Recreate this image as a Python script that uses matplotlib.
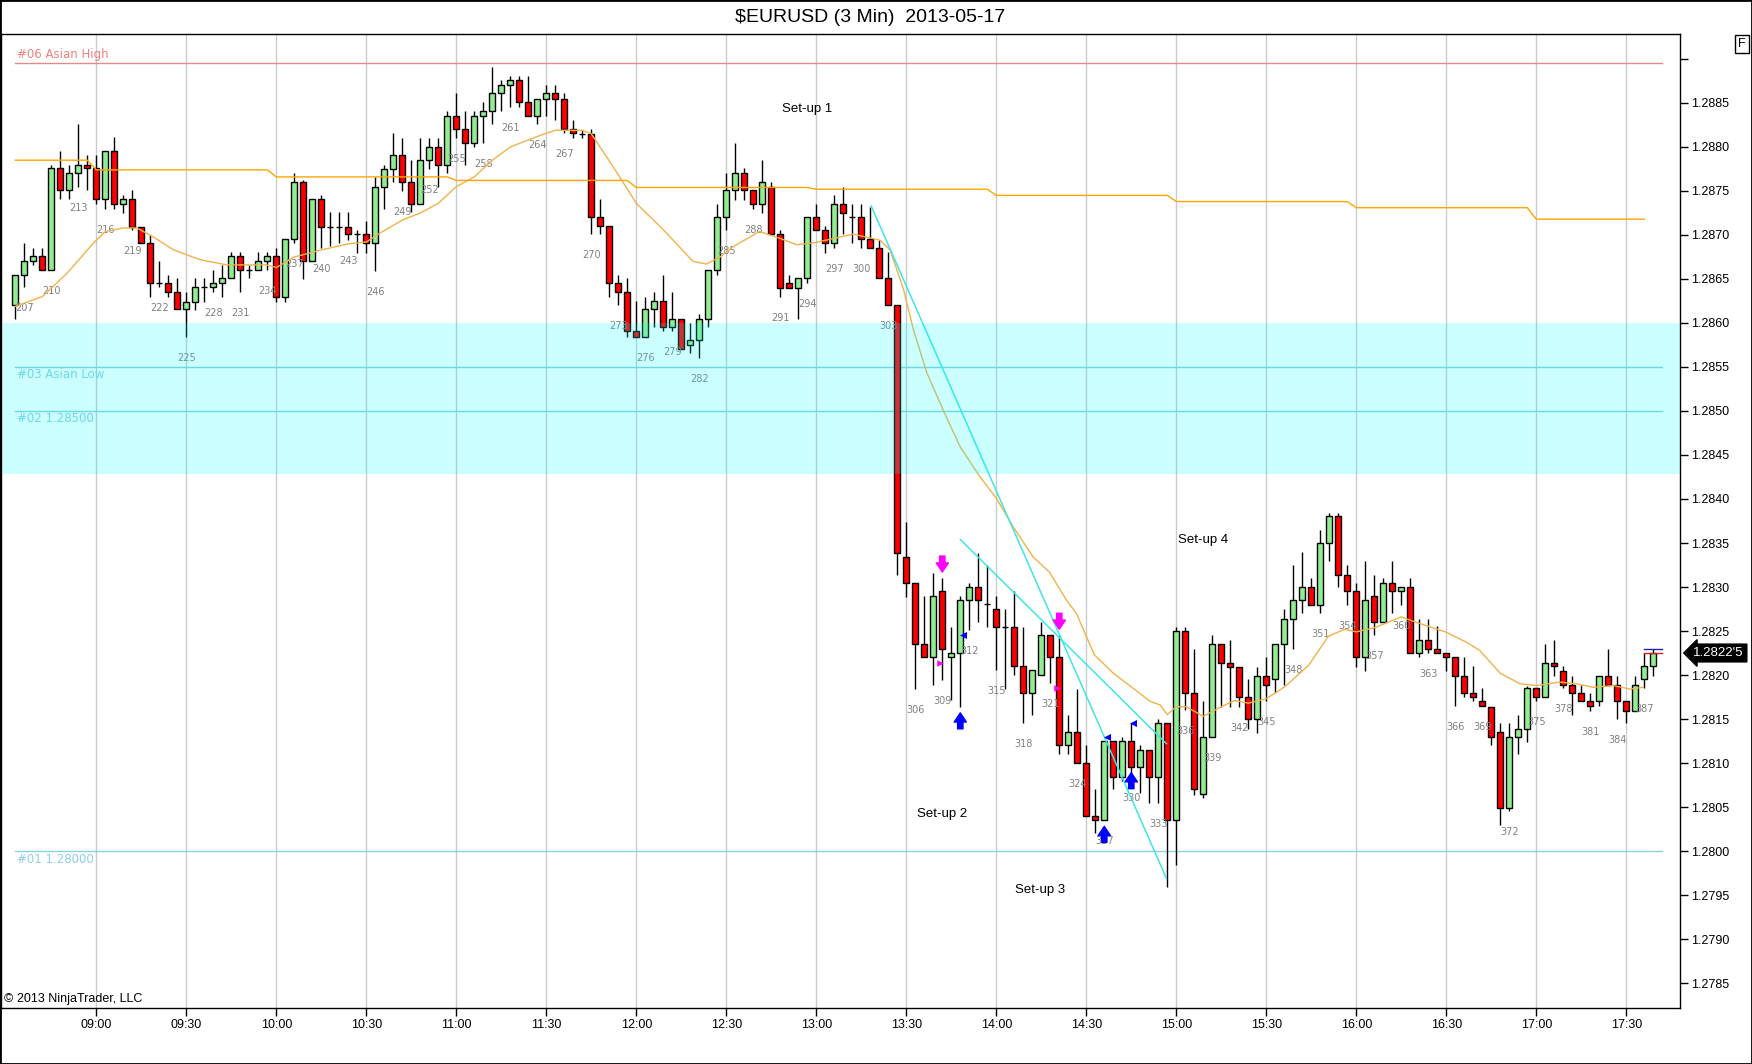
import numpy as np
import matplotlib.pyplot as plt
import matplotlib.transforms as mtransforms
from matplotlib.patches import Rectangle

# bar numbers 206 .. 388, 3 minute bars, 215 = 09:00
first_bar = 206
opens = [1.28620, 1.28655, 1.28670, 1.28676, 1.28660, 1.28776, 1.28751, 1.28770, 1.28780, 1.28776,
         1.28741, 1.28795, 1.28735, 1.28741, 1.28709, 1.28691, 1.28645, 1.28645, 1.28635, 1.28616,
         1.28624, 1.28641, 1.28641, 1.28645, 1.28651, 1.28676, 1.28660, 1.28660, 1.28670, 1.28676,
         1.28630, 1.28695, 1.28760, 1.28670, 1.28741, 1.28709, 1.28709, 1.28709, 1.28701, 1.28701,
         1.28691, 1.28755, 1.28775, 1.28791, 1.28760, 1.28735, 1.28785, 1.28800, 1.28780, 1.28835,
         1.28820, 1.28805, 1.28835, 1.28841, 1.28861, 1.28870, 1.28876, 1.28851, 1.28835, 1.28855,
         1.28861, 1.28855, 1.28820, 1.28815, 1.28815, 1.28720, 1.28710, 1.28645, 1.28635, 1.28591,
         1.28584, 1.28616, 1.28625, 1.28595, 1.28605, 1.28575, 1.28581, 1.28605, 1.28660, 1.28720,
         1.28751, 1.28770, 1.28751, 1.28735, 1.28755, 1.28701, 1.28645, 1.28640, 1.28651, 1.28720,
         1.28706, 1.28691, 1.28735, 1.28720, 1.28720, 1.28695, 1.28685, 1.28651, 1.28620, 1.28334,
         1.28305, 1.28235, 1.28220, 1.28295, 1.28220, 1.28225, 1.28285, 1.28300, 1.28281, 1.28275,
         1.28255, 1.28255, 1.28210, 1.28179, 1.28200, 1.28245, 1.28220, 1.28120, 1.28135, 1.28100,
         1.28040, 1.28035, 1.28125, 1.28084, 1.28125, 1.28095, 1.28115, 1.28084, 1.28145, 1.28035,
         1.28250, 1.28179, 1.28065, 1.28129, 1.28235, 1.28214, 1.28209, 1.28175, 1.28150, 1.28199,
         1.28195, 1.28235, 1.28264, 1.28285, 1.28300, 1.28280, 1.28350, 1.28381, 1.28314, 1.28295,
         1.28220, 1.28290, 1.28260, 1.28305, 1.28295, 1.28300, 1.28225, 1.28240, 1.28230, 1.28225,
         1.28220, 1.28199, 1.28179, 1.28170, 1.28164, 1.28135, 1.28049, 1.28129, 1.28139, 1.28185,
         1.28175, 1.28214, 1.28205, 1.28189, 1.28179, 1.28170, 1.28170, 1.28199, 1.28189, 1.28170,
         1.28159, 1.28195, 1.28210]
highs = [1.28655, 1.28691, 1.28685, 1.28685, 1.28780, 1.28795, 1.28780, 1.28826, 1.28791, 1.28791,
         1.28795, 1.28811, 1.28745, 1.28751, 1.28709, 1.28700, 1.28670, 1.28655, 1.28651, 1.28635,
         1.28651, 1.28651, 1.28660, 1.28666, 1.28681, 1.28681, 1.28666, 1.28681, 1.28681, 1.28685,
         1.28695, 1.28770, 1.28763, 1.28741, 1.28745, 1.28726, 1.28726, 1.28726, 1.28706, 1.28716,
         1.28766, 1.28780, 1.28816, 1.28810, 1.28785, 1.28810, 1.28810, 1.28810, 1.28841, 1.28861,
         1.28841, 1.28841, 1.28851, 1.28891, 1.28876, 1.28881, 1.28881, 1.28881, 1.28855, 1.28870,
         1.28870, 1.28861, 1.28831, 1.28819, 1.28820, 1.28741, 1.28710, 1.28655, 1.28651, 1.28625,
         1.28630, 1.28635, 1.28655, 1.28635, 1.28605, 1.28600, 1.28610, 1.28660, 1.28735, 1.28770,
         1.28805, 1.28776, 1.28751, 1.28785, 1.28760, 1.28706, 1.28655, 1.28651, 1.28720, 1.28735,
         1.28710, 1.28745, 1.28755, 1.28735, 1.28735, 1.28732, 1.28694, 1.28681, 1.28620, 1.28374,
         1.28305, 1.28290, 1.28316, 1.28310, 1.28255, 1.28290, 1.28305, 1.28339, 1.28325, 1.28290,
         1.28275, 1.28295, 1.28255, 1.28206, 1.28260, 1.28245, 1.28245, 1.28154, 1.28184, 1.28120,
         1.28070, 1.28125, 1.28125, 1.28130, 1.28145, 1.28120, 1.28115, 1.28150, 1.28145, 1.28255,
         1.28255, 1.28230, 1.28170, 1.28245, 1.28235, 1.28240, 1.28209, 1.28195, 1.28209, 1.28220,
         1.28235, 1.28275, 1.28325, 1.28340, 1.28310, 1.28365, 1.28384, 1.28384, 1.28325, 1.28305,
         1.28330, 1.28314, 1.28310, 1.28330, 1.28300, 1.28310, 1.28264, 1.28264, 1.28256, 1.28225,
         1.28220, 1.28220, 1.28210, 1.28185, 1.28164, 1.28145, 1.28145, 1.28155, 1.28188, 1.28185,
         1.28235, 1.28240, 1.28210, 1.28199, 1.28189, 1.28179, 1.28199, 1.28230, 1.28199, 1.28170,
         1.28199, 1.28225, 1.28230]
lows = [1.28605, 1.28641, 1.28666, 1.28660, 1.28660, 1.28741, 1.28741, 1.28755, 1.28751, 1.28735,
        1.28730, 1.28730, 1.28725, 1.28706, 1.28691, 1.28630, 1.28641, 1.28630, 1.28616, 1.28584,
        1.28615, 1.28624, 1.28635, 1.28630, 1.28651, 1.28635, 1.28651, 1.28660, 1.28660, 1.28624,
        1.28624, 1.28691, 1.28650, 1.28670, 1.28685, 1.28687, 1.28691, 1.28694, 1.28680, 1.28680,
        1.28659, 1.28730, 1.28760, 1.28750, 1.28726, 1.28735, 1.28775, 1.28755, 1.28770, 1.28810,
        1.28780, 1.28800, 1.28805, 1.28826, 1.28841, 1.28846, 1.28846, 1.28835, 1.28826, 1.28835,
        1.28831, 1.28816, 1.28810, 1.28810, 1.28701, 1.28701, 1.28630, 1.28620, 1.28584, 1.28584,
        1.28584, 1.28595, 1.28591, 1.28591, 1.28570, 1.28566, 1.28560, 1.28595, 1.28655, 1.28706,
        1.28740, 1.28740, 1.28730, 1.28725, 1.28701, 1.28630, 1.28640, 1.28605, 1.28645, 1.28706,
        1.28680, 1.28685, 1.28701, 1.28691, 1.28685, 1.28685, 1.28651, 1.28620, 1.28314, 1.28289,
        1.28184, 1.28220, 1.28189, 1.28194, 1.28172, 1.28164, 1.28251, 1.28260, 1.28255, 1.28206,
        1.28184, 1.28200, 1.28145, 1.28154, 1.28200, 1.28191, 1.28110, 1.28110, 1.28100, 1.28040,
        1.28020, 1.28035, 1.28070, 1.28080, 1.28084, 1.28066, 1.28054, 1.28054, 1.27959, 1.27984,
        1.28160, 1.28064, 1.28060, 1.28129, 1.28164, 1.28164, 1.28164, 1.28139, 1.28134, 1.28170,
        1.28179, 1.28189, 1.28230, 1.28270, 1.28280, 1.28270, 1.28330, 1.28300, 1.28280, 1.28209,
        1.28205, 1.28245, 1.28260, 1.28270, 1.28280, 1.28225, 1.28220, 1.28225, 1.28225, 1.28205,
        1.28165, 1.28175, 1.28170, 1.28165, 1.28120, 1.28029, 1.28045, 1.28110, 1.28124, 1.28170,
        1.28175, 1.28199, 1.28185, 1.28155, 1.28170, 1.28159, 1.28165, 1.28189, 1.28150, 1.28145,
        1.28159, 1.28185, 1.28199]
closes = [1.28655, 1.28670, 1.28676, 1.28660, 1.28776, 1.28751, 1.28770, 1.28780, 1.28776, 1.28741,
          1.28795, 1.28735, 1.28741, 1.28709, 1.28691, 1.28645, 1.28645, 1.28635, 1.28616, 1.28624,
          1.28641, 1.28641, 1.28645, 1.28651, 1.28676, 1.28660, 1.28660, 1.28670, 1.28676, 1.28630,
          1.28695, 1.28760, 1.28670, 1.28741, 1.28709, 1.28709, 1.28709, 1.28701, 1.28701, 1.28691,
          1.28755, 1.28775, 1.28791, 1.28760, 1.28735, 1.28785, 1.28800, 1.28780, 1.28835, 1.28820,
          1.28805, 1.28835, 1.28841, 1.28861, 1.28870, 1.28876, 1.28851, 1.28835, 1.28855, 1.28861,
          1.28855, 1.28820, 1.28816, 1.28815, 1.28720, 1.28710, 1.28645, 1.28635, 1.28591, 1.28584,
          1.28616, 1.28625, 1.28595, 1.28605, 1.28570, 1.28581, 1.28605, 1.28660, 1.28720, 1.28751,
          1.28770, 1.28751, 1.28735, 1.28760, 1.28701, 1.28640, 1.28640, 1.28651, 1.28720, 1.28706,
          1.28691, 1.28735, 1.28725, 1.28720, 1.28695, 1.28685, 1.28651, 1.28620, 1.28339, 1.28305,
          1.28235, 1.28220, 1.28290, 1.28230, 1.28225, 1.28285, 1.28300, 1.28285, 1.28281, 1.28255,
          1.28255, 1.28210, 1.28179, 1.28206, 1.28245, 1.28220, 1.28120, 1.28135, 1.28100, 1.28040,
          1.28035, 1.28125, 1.28084, 1.28125, 1.28095, 1.28115, 1.28084, 1.28145, 1.28035, 1.28250,
          1.28179, 1.28070, 1.28129, 1.28235, 1.28214, 1.28209, 1.28175, 1.28150, 1.28199, 1.28189,
          1.28235, 1.28264, 1.28285, 1.28300, 1.28280, 1.28350, 1.28381, 1.28314, 1.28295, 1.28220,
          1.28285, 1.28260, 1.28305, 1.28295, 1.28300, 1.28225, 1.28240, 1.28230, 1.28225, 1.28220,
          1.28199, 1.28179, 1.28175, 1.28165, 1.28129, 1.28049, 1.28129, 1.28139, 1.28185, 1.28175,
          1.28214, 1.28210, 1.28189, 1.28179, 1.28170, 1.28165, 1.28199, 1.28189, 1.28170, 1.28159,
          1.28189, 1.28210, 1.28225]

tick_bars = [215, 225, 235, 245, 255, 265, 275, 285, 295, 305, 315, 325, 335, 345, 355, 365, 375, 385]
tick_times = ['09:00', '09:30', '10:00', '10:30', '11:00', '11:30', '12:00', '12:30', '13:00',
              '13:30', '14:00', '14:30', '15:00', '15:30', '16:00', '16:30', '17:00', '17:30']

ema_bars = [206, 209, 211.7, 214.7, 216, 218, 219.5, 221.3, 223.6, 226.5, 229.5, 233.9, 235, 237,
            240, 243, 245, 246.5, 249, 251, 253, 255, 257, 259, 261, 264, 266, 269, 270, 272.4,
            275, 278, 281.3, 282.8, 284.3, 285.8, 288.7, 291, 292.8, 294.7, 299.1, 302.1, 303.2,
            304.7, 305.8, 307.3, 309.1, 311, 313.2, 315, 316.9, 319.1, 320.9, 322.8, 323.9, 325,
            325.9, 328, 330.2, 332.1, 333.2, 334, 335, 336.1, 338, 340, 341.5, 343, 345, 347.1,
            349.7, 351.9, 353.7, 355, 357.1, 360, 361.9, 364.9, 367.1, 368.7, 371, 373.2, 375,
            377.6, 379.5, 381.3, 383.6, 385.4, 386.9]
ema_vals = [1.28619, 1.28630, 1.28656, 1.28691, 1.28704, 1.28708, 1.28708, 1.28698, 1.28683, 1.28672,
            1.28666, 1.28666, 1.28663, 1.28675, 1.28683, 1.28690, 1.28692, 1.28702, 1.28717, 1.28725,
            1.28736, 1.28755, 1.28766, 1.28785, 1.28800, 1.28812, 1.28819, 1.28819, 1.28815, 1.28778,
            1.28736, 1.28706, 1.28670, 1.28667, 1.28675, 1.28687, 1.28704, 1.28696, 1.28689, 1.28691,
            1.28701, 1.28694, 1.28683, 1.28638, 1.28592, 1.28543, 1.28501, 1.28459, 1.28425, 1.28401,
            1.28368, 1.28334, 1.28317, 1.28285, 1.28270, 1.28244, 1.28223, 1.28202, 1.28185, 1.28170,
            1.28166, 1.28155, 1.28164, 1.28164, 1.28153, 1.28164, 1.28171, 1.28168, 1.28173, 1.28187,
            1.28211, 1.28244, 1.28252, 1.28249, 1.28254, 1.28266, 1.28259, 1.28249, 1.28238, 1.28228,
            1.28202, 1.28190, 1.28188, 1.28192, 1.28190, 1.28186, 1.28188, 1.28184, 1.28186]

# slow stepped average
step_starts = [206, 215, 235, 255, 275, 295, 315, 335, 355, 375]
step_vals = [1.28785, 1.28774, 1.28766, 1.28762, 1.28754, 1.28752, 1.28745, 1.28738, 1.28731, 1.28718]
step_last = 387

levels = [1.28895, 1.28550, 1.28500, 1.28000]
level_names = ['#06 Asian High', '#03 Asian Low', '#02 1.28500', '#01 1.28000']
level_colors = ['#e48a8a', '#86cfe0', '#86cfe0', '#8ecfe2']
zone_low = 1.28428
zone_high = 1.28600

trend_a_bars = [301.1, 333.9]
trend_a_vals = [1.28733, 1.27969]
trend_b_bars = [311.0, 333.9]
trend_b_vals = [1.28354, 1.28122]

setup_names = ['Set-up 1', 'Set-up 2', 'Set-up 3', 'Set-up 4']
setup_bars = [294.0, 309.0, 319.9, 338.0]
setup_vals = [1.28843, 1.28042, 1.27956, 1.28353]

down_arrow_bars = [309, 322]
down_arrow_tips = [1.28317, 1.28252]
up_arrow_bars = [311, 327, 330]
up_arrow_tips = [1.28157, 1.28028, 1.28089]
pink_marks_bars = [308.7, 321.7]
pink_marks_vals = [1.28214, 1.28185]
blue_marks_bars = [311.3, 327.3, 330.2]
blue_marks_vals = [1.28245, 1.28130, 1.28146]

last_price = 1.28225
ask_price = 1.28230

bars = np.arange(first_bar, first_bar + len(opens))
o = np.array(opens)
h = np.array(highs)
l = np.array(lows)
c = np.array(closes)

fig = plt.figure(figsize=(17.52, 10.64), dpi=100)
ax = fig.add_axes([1 / 1752, 1 - 1008 / 1064, 1679 / 1752, 974 / 1064])

# candles
ax.vlines(bars, l, h, color='black', lw=1, zorder=3)
cols = []
for i in range(len(bars)):
    if c[i] > o[i]:
        cols.append('#90ee90')
    elif c[i] < o[i]:
        cols.append('#ff0000')
    else:
        cols.append('black')
ax.bar(bars, c - o, bottom=o, width=0.68, color=cols, edgecolor='black', linewidth=1, zorder=4)

# bar numbers
for i in range(len(bars)):
    if bars[i] % 3 == 0:
        ax.annotate(str(bars[i]), xy=(bars[i], l[i]), xytext=(0, -21), textcoords='offset pixels',
                    ha='center', va='center', fontsize=7, color='#808080', zorder=5)

# averages
ax.plot(ema_bars, ema_vals, color='#f2b24a', lw=1, zorder=5)
sx = []
sy = []
for k in range(len(step_starts)):
    end = step_starts[k + 1] - 1 if k + 1 < len(step_starts) else step_last
    sx += [step_starts[k], end]
    sy += [step_vals[k], step_vals[k]]
ax.plot(sx, sy, color='#ffa500', lw=1, zorder=5)

# levels
for lv, name, col in zip(levels, level_names, level_colors):
    ax.plot([206, 389], [lv, lv], color=col, lw=1, zorder=2)
    if lv > 1.2888:
        ax.annotate(name, xy=(206.2, lv), xytext=(0, 9), textcoords='offset pixels',
                    ha='left', va='center', fontsize=8.5, color='#f08080')
    else:
        ax.annotate(name, xy=(206.2, lv), xytext=(0, -8), textcoords='offset pixels',
                    ha='left', va='center', fontsize=8.5, color=col)
ax.axhspan(zone_low, zone_high, color='#00ffff', alpha=0.2, lw=0, zorder=8)

# trend lines
ax.plot(trend_a_bars, trend_a_vals, color='#3ee6e6', lw=1.1, zorder=6)
ax.plot(trend_b_bars, trend_b_vals, color='#3ee6e6', lw=1.1, zorder=6)

# trade markers
for b, p in zip(down_arrow_bars, down_arrow_tips):
    ax.annotate('', xy=(b, p), xytext=(0, 16), textcoords='offset pixels',
                arrowprops=dict(arrowstyle='simple,head_length=0.6,head_width=0.8,tail_width=0.35',
                                fc='#ff00ff', ec='#ff00ff', mutation_scale=11, shrinkA=0, shrinkB=0),
                zorder=7)
for b, p in zip(up_arrow_bars, up_arrow_tips):
    ax.annotate('', xy=(b, p), xytext=(0, -16), textcoords='offset pixels',
                arrowprops=dict(arrowstyle='simple,head_length=0.6,head_width=0.8,tail_width=0.35',
                                fc='#0000ff', ec='#0000ff', mutation_scale=11, shrinkA=0, shrinkB=0),
                zorder=7)
ax.scatter(pink_marks_bars, pink_marks_vals, marker='>', s=22, color='#ff00ff', zorder=7, lw=0)
ax.scatter(blue_marks_bars, blue_marks_vals, marker='<', s=26, color='#0000ff', zorder=7, lw=0)

for name, b, p in zip(setup_names, setup_bars, setup_vals):
    ax.text(b, p, name, ha='center', va='center', fontsize=9.5, family='Liberation Sans', zorder=7)

# last price marks
ax.plot([387, 389], [ask_price, ask_price], color='#2020c0', lw=1, zorder=6)
ax.plot([387, 389], [last_price, last_price], color='#e02020', lw=1, zorder=6)
trans = mtransforms.blended_transform_factory(ax.transAxes, ax.transData)
ax.text(1.008, last_price, "1.2822'5", transform=trans, ha='left', va='center', color='white',
        fontsize=9.5, family='Liberation Sans', clip_on=False, zorder=10,
        bbox=dict(boxstyle='larrow,pad=0.22', fc='black', ec='black'))

ax.set_xlim(204.41, 390.97)
ax.set_ylim(1.278216, 1.289284)
ax.set_xticks(tick_bars)
ax.set_xticklabels(tick_times, family='Liberation Sans', fontsize=9)
ax.grid(axis='x', color='#c8ccd0', lw=1)
ax.set_axisbelow(True)
ax.yaxis.tick_right()
yt = np.arange(1.2785, 1.28905, 0.0005)
ax.set_yticks(yt)
ax.set_yticklabels(['%.4f' % t for t in yt[:-1]] + [''], family='Liberation Sans', fontsize=9)
ax.tick_params(axis='both', direction='out', length=6, width=1, pad=2)
for s in ax.spines.values():
    s.set_linewidth(1)

fig.text(870 / 1752, 1 - 17 / 1064, '$EURUSD (3 Min)  2013-05-17', ha='center', va='center',
         fontsize=14, family='Liberation Sans')
fig.text(4 / 1752, 1 - 999 / 1064, '\u00a9 2013 NinjaTrader, LLC', ha='left', va='center',
         fontsize=9, family='Liberation Sans')
fig.text(1742 / 1752, 1 - 44 / 1064, 'F', ha='center', va='center', fontsize=9,
         family='Liberation Sans',
         bbox=dict(boxstyle='square,pad=0.25', fc='white', ec='black', lw=1))
fig.add_artist(Rectangle((0, 0), 1, 1, transform=fig.transFigure, fill=False, ec='black', lw=2))

fig.savefig('out.png', dpi=100)
